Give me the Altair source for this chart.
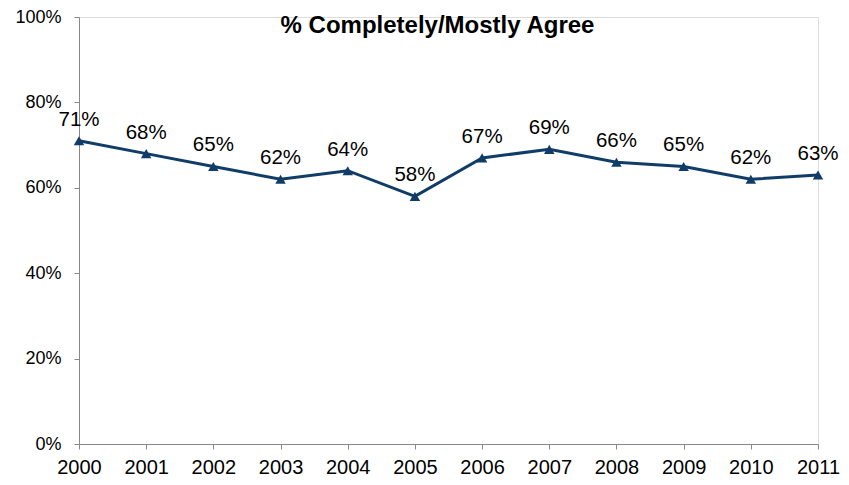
import altair as alt
import pandas as pd

years = ["2000", "2001", "2002", "2003", "2004", "2005", "2006", "2007", "2008", "2009", "2010", "2011"]
values = [0.71, 0.68, 0.65, 0.62, 0.64, 0.58, 0.67, 0.69, 0.66, 0.65, 0.62, 0.63]
labels = ["71%", "68%", "65%", "62%", "64%", "58%", "67%", "69%", "66%", "65%", "62%", "63%"]

df = pd.DataFrame({"year": years, "value": values, "label": labels})

COLOR = "#0F3D68"
FONT = "Liberation Sans"

x = alt.X("year:O", title=None,
          scale=alt.Scale(paddingOuter=0, paddingInner=0, padding=0),
          axis=alt.Axis(labelAngle=0, labelFontSize=20, labelColor="#000000",
                        labelFont=FONT, labelPadding=24, tickSize=5,
                        tickColor="#888888", domainColor="#888888",
                        labelBaseline="alphabetic"))
y = alt.Y("value:Q", title=None,
          scale=alt.Scale(domain=[0, 1], nice=False),
          axis=alt.Axis(format=".0%", values=[0, 0.2, 0.4, 0.6, 0.8, 1.0],
                        grid=False, labelFontSize=18, labelColor="#000000",
                        labelFont=FONT, labelPadding=13, tickSize=5,
                        tickColor="#888888", domainColor="#888888"))

base = alt.Chart(df).encode(x=x, y=y)

line = base.mark_line(color=COLOR, strokeWidth=3)
pts = base.mark_point(shape="triangle-up", filled=True, size=110, color=COLOR, opacity=1)
txt = base.mark_text(dy=-15, baseline="alphabetic", fontSize=20.5, font=FONT, color="#000000").encode(text="label:N")

chart = (line + pts + txt).properties(
    width=739, height=427,
    title=alt.TitleParams("% Completely/Mostly Agree", font=FONT, fontSize=24,
                          fontWeight="bold", color="#000000", anchor="middle",
                          dx=-11, dy=53, baseline="alphabetic"),
    autosize=alt.AutoSizeParams(type="none"),
    padding={"left": 71, "top": 9, "right": 23, "bottom": 33},
).configure_view(stroke=None).configure(background="white")

chart.save("out.html", embed_options={"renderer": "svg", "actions": False})
